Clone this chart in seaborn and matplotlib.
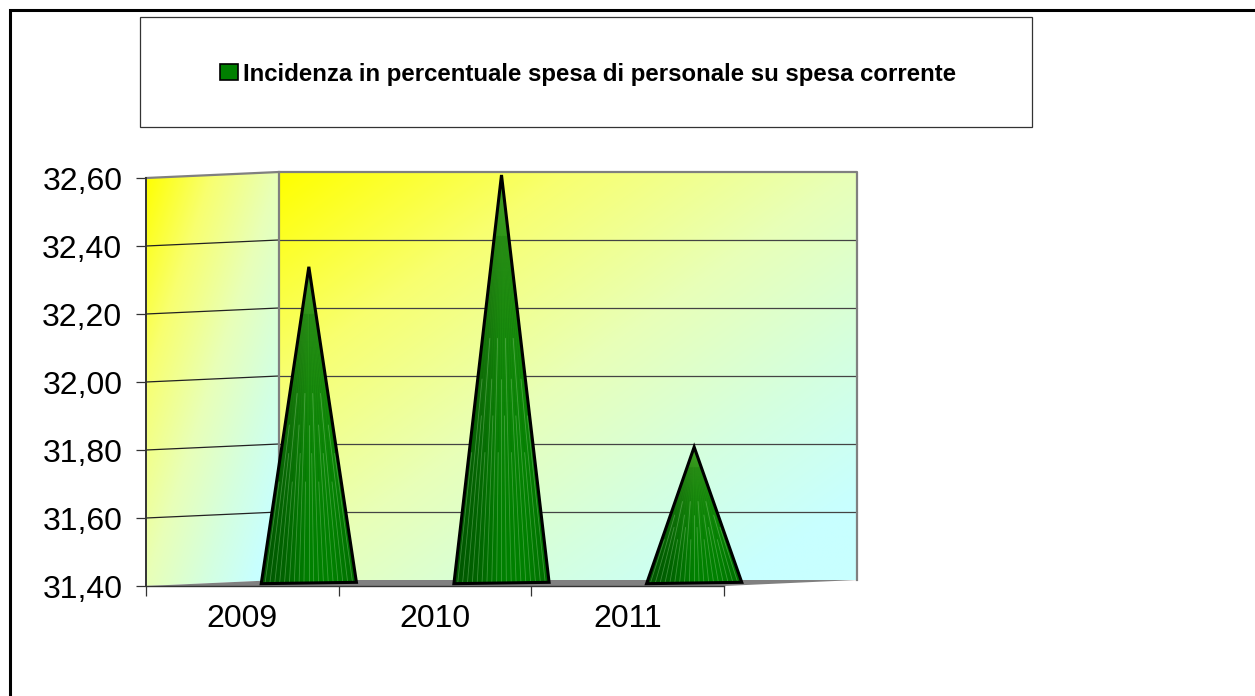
import numpy as np
import pandas as pd
import matplotlib
matplotlib.use("Agg")
import matplotlib.pyplot as plt
from matplotlib.colors import LinearSegmentedColormap
from matplotlib.patches import Patch, Polygon, Rectangle
import seaborn as sns

# valori
anni = ["2009", "2010", "2011"]
posizioni = [0, 1, 2]
incidenza = [32.33, 32.60, 31.80]
tick_y = [31.40, 31.60, 31.80, 32.00, 32.20, 32.40, 32.60]
titolo_legenda = "Incidenza in percentuale spesa di personale su spesa corrente"

W, H = 1255, 696
DEPTH_X = 133 / 192.67   # profondita' 3D in unita' categoria
DEPTH_Y = 6 / 340.0      # profondita' 3D in unita' y
Y0, Y1 = tick_y[0], tick_y[-1]

sns.set_theme(style="white")
plt.rcParams["font.family"] = ["Liberation Sans", "DejaVu Sans"]

df = pd.DataFrame({"pos": posizioni, "incidenza": incidenza})

fig = plt.figure(figsize=(W / 100, H / 100), dpi=100, facecolor="white")
ax = fig.add_axes([146 / W, 1 - 586 / H, 578 / W, 408 / H])
ax.set_zorder(2)
ax.patch.set_visible(False)

sns.barplot(data=df, x="pos", y="incidenza", ax=ax, width=0.494, color="#008000", native_scale=True)
ax.set_xlim(-0.5, 2.5)
ax.set_ylim(Y0, Y1)

# gradiente pareti
muro = LinearSegmentedColormap.from_list("muro", [(0, "#ffff00"), (0.25, "#f8ff70"), (0.5, "#e8ffb8"),
                                                  (0.72, "#d4ffe0"), (0.9, "#c8ffff"), (1, "#c8ffff")])
grad = np.add.outer(np.linspace(0, 1, 200), np.linspace(0, 1, 200)) / 2


def riempi(img, cmap, x0, x1, y0, y1, punti, z):
    # immagine ritagliata su un poligono, anche fuori dagli assi
    im = ax.imshow(img, cmap=cmap, vmin=0, vmax=1, extent=[x0, x1, y0, y1], origin="upper",
                   aspect="auto", zorder=z, interpolation="bilinear")
    im.set_clip_box(fig.bbox)
    im.set_clip_path(Polygon(punti, transform=ax.transData))


xa, xb = -0.5, 2.5
riempi(grad, muro, xa + DEPTH_X, xb + DEPTH_X, Y0 + DEPTH_Y, Y1 + DEPTH_Y,
       [(xa + DEPTH_X, Y0 + DEPTH_Y), (xb + DEPTH_X, Y0 + DEPTH_Y),
        (xb + DEPTH_X, Y1 + DEPTH_Y), (xa + DEPTH_X, Y1 + DEPTH_Y)], 1)
riempi(grad, muro, xa, xa + DEPTH_X, Y0, Y1 + DEPTH_Y,
       [(xa, Y0), (xa + DEPTH_X, Y0 + DEPTH_Y), (xa + DEPTH_X, Y1 + DEPTH_Y), (xa, Y1)], 1)

# pavimento
ax.add_patch(Polygon([(xa, Y0), (xa + DEPTH_X, Y0 + DEPTH_Y), (xb + DEPTH_X, Y0 + DEPTH_Y), (xb, Y0)],
                     facecolor="#808080", edgecolor="none", zorder=2, clip_on=False))

# griglia
for v in tick_y[1:-1]:
    ax.plot([xa, xa + DEPTH_X], [v, v + DEPTH_Y], color="#222222", lw=0.9, zorder=3, clip_on=False)
    ax.plot([xa + DEPTH_X, xb + DEPTH_X], [v + DEPTH_Y] * 2, color="#444444", lw=0.9, zorder=3, clip_on=False)

# bordi pareti
bordo = dict(color="#808080", lw=1.6, zorder=3, clip_on=False, solid_capstyle="projecting")
ax.plot([xa, xa + DEPTH_X, xb + DEPTH_X, xb + DEPTH_X],
        [Y1, Y1 + DEPTH_Y, Y1 + DEPTH_Y, Y0 + DEPTH_Y], **bordo)
ax.plot([xa + DEPTH_X, xa + DEPTH_X], [Y0 + DEPTH_Y, Y1 + DEPTH_Y], **bordo)

# coni: le barre di seaborn danno posizione e altezza
forma = LinearSegmentedColormap.from_list("cono", ["#005400", "#006400", "#008000", "#008000", "#006c00"])
ombra = np.add.outer(np.zeros(120), np.linspace(0, 1, 120))
cono_rgba = forma(ombra)
# verso la punta il verde schiarisce
schiarisci = np.linspace(1, 0, 120)[:, None, None] ** 2
cono_rgba[:, :, :3] = np.clip(cono_rgba[:, :, :3] + schiarisci * np.array([0.26, 0.12, 0.14]), 0, 1)
quote_raggi = [0.32, 0.5, 0.41, 0.6]

for bar in [p for p in ax.patches if isinstance(p, Rectangle)]:
    xc = bar.get_x() + bar.get_width() / 2 + DEPTH_X / 2
    r = bar.get_width() / 2
    base = Y0 + DEPTH_Y / 2
    top = bar.get_height() + DEPTH_Y / 2
    bar.set_visible(False)
    punti = [(xc - r, base - 0.002), (xc, top), (xc + r, base + 0.002)]
    riempi(cono_rgba, None, xc - r, xc + r, base, top, punti, 4)
    # raggiera del cono, con fine sfalsata
    for i, u in enumerate(np.linspace(-0.92, 0.92, 19)):
        xu = xc + r * u
        q = quote_raggi[i % len(quote_raggi)]
        ax.plot([xu, xu + (xc - xu) * q], [base, base + (top - base) * q], color="#a8dca0",
                lw=0.6, alpha=0.35, zorder=4.1, clip_on=False)
        ax.plot([xu + (xc - xu) * q, xu + (xc - xu) * 0.85],
                [base + (top - base) * q, base + (top - base) * 0.85], color="#006000",
                lw=0.5, alpha=0.2, zorder=4.1, clip_on=False)
    ax.add_patch(Polygon(punti, closed=True, facecolor="none", edgecolor="black", lw=2.2,
                         joinstyle="miter", zorder=5, clip_on=False))

ax.set_xlim(-0.5, 2.5)
ax.set_ylim(Y0, Y1)

# assi
sns.despine(ax=ax, top=True, right=True)
ax.spines["left"].set_color("#333333")
ax.spines["left"].set_linewidth(1.4)
ax.spines["bottom"].set_color("#333333")
ax.spines["bottom"].set_linewidth(1.0)
ax.spines["left"].set_zorder(6)
ax.spines["bottom"].set_zorder(3)
ax.set_xlabel("")
ax.set_ylabel("")
ax.set_yticks(tick_y)
ax.set_yticklabels([f"{v:.2f}".replace(".", ",") for v in tick_y], fontsize=23, color="black")
ax.set_xticks(posizioni)
ax.set_xticklabels(anni, fontsize=23, color="black")
ax.set_xticks([-0.5, 0.5, 1.5, 2.5], minor=True)
ax.tick_params(axis="x", which="major", length=0, pad=13)
ax.tick_params(axis="x", which="minor", length=7, width=0.9, color="#333333", bottom=True)
ax.tick_params(axis="y", length=7, width=0.9, color="#333333", left=True, pad=10)

# cornice esterna e riquadro legenda
fig.add_artist(Rectangle((9.5 / W, -0.02), 1.1, 1.02 - 10 / H, transform=fig.transFigure,
                         facecolor="none", edgecolor="black", lw=2.2))
fig.add_artist(Rectangle((140 / W, 1 - 127 / H), 892 / W, 110 / H, transform=fig.transFigure,
                         facecolor="white", edgecolor="#333333", lw=0.9))

leg = fig.legend(handles=[Patch(facecolor="#008000", edgecolor="black", lw=1.2, label=titolo_legenda)],
                 loc="center", bbox_to_anchor=(588 / W, 1 - 74 / H), frameon=False,
                 handlelength=0.75, handleheight=0.67, handletextpad=0.2, borderpad=0,
                 prop={"family": "Liberation Sans", "weight": "bold", "size": 17.3}, labelcolor="black")
leg.set_zorder(5)

fig.savefig("out.png", dpi=100)
